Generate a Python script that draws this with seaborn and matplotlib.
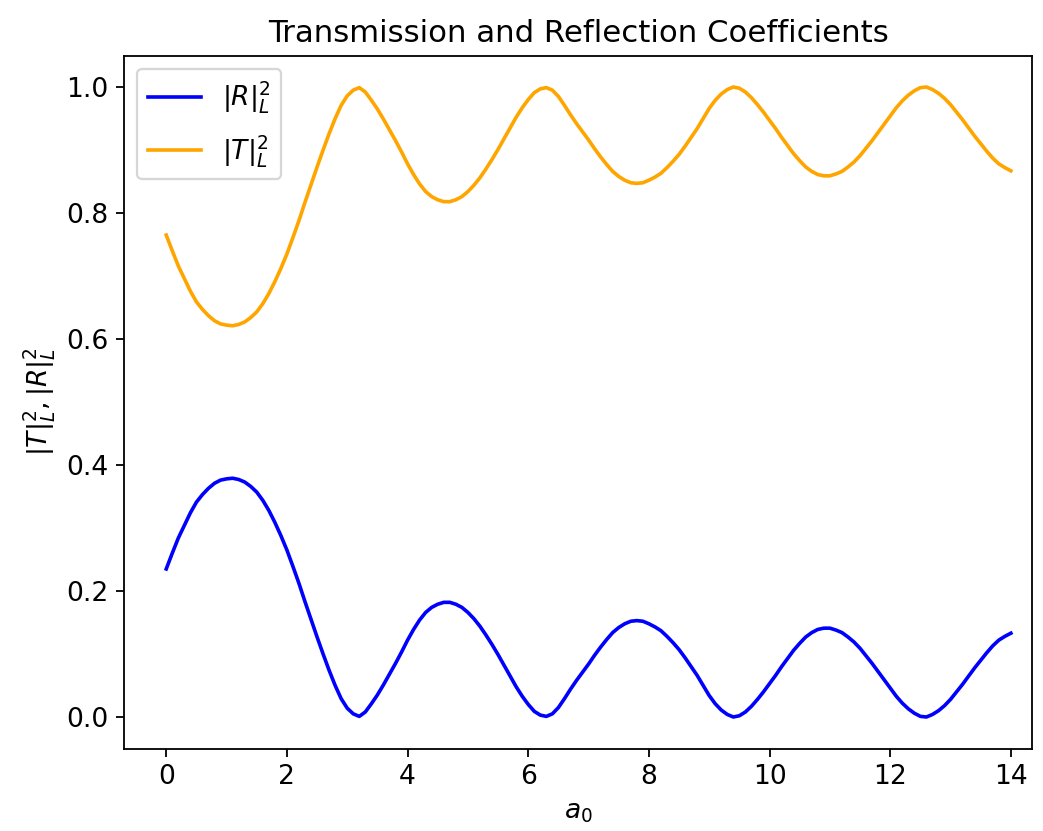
import matplotlib
matplotlib.use("Agg")
import matplotlib.pyplot as plt
import seaborn as sns
import pandas as pd

a0 = [0.0, 0.1, 0.2, 0.3, 0.4, 0.5, 0.6, 0.7, 0.8, 0.9,
      1.0, 1.1, 1.2, 1.3, 1.4, 1.5, 1.6, 1.7, 1.8, 1.9,
      2.0, 2.1, 2.2, 2.3, 2.4, 2.5, 2.6, 2.7, 2.8, 2.9,
      3.0, 3.1, 3.2, 3.3, 3.4, 3.5, 3.6, 3.7, 3.8, 3.9,
      4.0, 4.1, 4.2, 4.3, 4.4, 4.5, 4.6, 4.7, 4.8, 4.9,
      5.0, 5.1, 5.2, 5.3, 5.4, 5.5, 5.6, 5.7, 5.8, 5.9,
      6.0, 6.1, 6.2, 6.3, 6.4, 6.5, 6.6, 6.7, 6.8, 6.9,
      7.0, 7.1, 7.2, 7.3, 7.4, 7.5, 7.6, 7.7, 7.8, 7.9,
      8.0, 8.1, 8.2, 8.3, 8.4, 8.5, 8.6, 8.7, 8.8, 8.9,
      9.0, 9.1, 9.2, 9.3, 9.4, 9.5, 9.6, 9.7, 9.8, 9.9,
      10.0, 10.1, 10.2, 10.3, 10.4, 10.5, 10.6, 10.7, 10.8, 10.9,
      11.0, 11.1, 11.2, 11.3, 11.4, 11.5, 11.6, 11.7, 11.8, 11.9,
      12.0, 12.1, 12.2, 12.3, 12.4, 12.5, 12.6, 12.7, 12.8, 12.9,
      13.0, 13.1, 13.2, 13.3, 13.4, 13.5, 13.6, 13.7, 13.8, 13.9,
      14.0]

R2 = [0.235, 0.260, 0.284, 0.304, 0.324, 0.341, 0.353, 0.363, 0.371, 0.376,
      0.378, 0.379, 0.377, 0.373, 0.366, 0.357, 0.344, 0.328, 0.309, 0.288,
      0.265, 0.239, 0.212, 0.183, 0.155, 0.127, 0.100, 0.074, 0.050, 0.029,
      0.014, 0.005, 0.001, 0.008, 0.021, 0.035, 0.051, 0.068, 0.085, 0.103,
      0.122, 0.139, 0.154, 0.166, 0.174, 0.179, 0.182, 0.182, 0.179, 0.174,
      0.166, 0.156, 0.144, 0.130, 0.115, 0.099, 0.082, 0.065, 0.048, 0.033,
      0.020, 0.009, 0.003, 0.001, 0.005, 0.015, 0.029, 0.044, 0.058, 0.071,
      0.084, 0.098, 0.111, 0.123, 0.134, 0.142, 0.148, 0.152, 0.153, 0.152,
      0.148, 0.143, 0.137, 0.128, 0.118, 0.107, 0.094, 0.080, 0.066, 0.050,
      0.034, 0.021, 0.011, 0.004, 0.000, 0.002, 0.008, 0.017, 0.028, 0.040,
      0.053, 0.066, 0.080, 0.093, 0.106, 0.117, 0.127, 0.134, 0.139, 0.141,
      0.141, 0.138, 0.134, 0.127, 0.119, 0.109, 0.097, 0.085, 0.072, 0.059,
      0.046, 0.033, 0.022, 0.013, 0.006, 0.001, 0.000, 0.004, 0.010, 0.018,
      0.028, 0.040, 0.052, 0.065, 0.078, 0.090, 0.102, 0.113, 0.122, 0.128,
      0.133]

T2 = [0.765, 0.740, 0.716, 0.696, 0.676, 0.659, 0.647, 0.637, 0.629, 0.624,
      0.622, 0.621, 0.623, 0.627, 0.634, 0.643, 0.656, 0.672, 0.691, 0.712,
      0.735, 0.761, 0.788, 0.817, 0.845, 0.873, 0.900, 0.926, 0.950, 0.971,
      0.986, 0.995, 0.999, 0.992, 0.979, 0.965, 0.949, 0.932, 0.915, 0.897,
      0.878, 0.861, 0.846, 0.834, 0.826, 0.821, 0.818, 0.818, 0.821, 0.826,
      0.834, 0.844, 0.856, 0.870, 0.885, 0.901, 0.918, 0.935, 0.952, 0.967,
      0.980, 0.991, 0.997, 0.999, 0.995, 0.985, 0.971, 0.956, 0.942, 0.929,
      0.916, 0.902, 0.889, 0.877, 0.866, 0.858, 0.852, 0.848, 0.847, 0.848,
      0.852, 0.857, 0.863, 0.872, 0.882, 0.893, 0.906, 0.920, 0.934, 0.950,
      0.966, 0.979, 0.989, 0.996, 1.000, 0.998, 0.992, 0.983, 0.972, 0.960,
      0.947, 0.934, 0.920, 0.907, 0.894, 0.883, 0.873, 0.866, 0.861, 0.859,
      0.859, 0.862, 0.866, 0.873, 0.881, 0.891, 0.903, 0.915, 0.928, 0.941,
      0.954, 0.967, 0.978, 0.987, 0.994, 0.999, 1.000, 0.996, 0.990, 0.982,
      0.972, 0.960, 0.948, 0.935, 0.922, 0.910, 0.898, 0.887, 0.878, 0.872,
      0.867]

labels = [r"$|R|_L^2$", r"$|T|_L^2$"]
colors = ["blue", "orange"]
x_ticks = [0, 2, 4, 6, 8, 10, 12, 14]
y_ticks = [0.0, 0.2, 0.4, 0.6, 0.8, 1.0]

df = pd.DataFrame({"a0": a0, "R": R2, "T": T2})

FS = 11.7
plt.rcParams.update({
    "font.size": FS,
    "axes.titlesize": 13.6,
    "axes.labelsize": FS,
    "xtick.labelsize": FS,
    "ytick.labelsize": FS,
    "legend.fontsize": FS,
})

DPI = 163
fig = plt.figure(figsize=(1043 / DPI, 831 / DPI), dpi=DPI)
ax = fig.add_axes([124 / 1043, 1 - 748.5 / 831, (1032 - 124) / 1043, (748.5 - 55.5) / 831])

sns.lineplot(data=df, x="a0", y="R", ax=ax, color=colors[0], label=labels[0], linewidth=1.6)
sns.lineplot(data=df, x="a0", y="T", ax=ax, color=colors[1], label=labels[1], linewidth=1.6)

ax.set_xlim(-0.7, 14.35)
ax.set_ylim(-0.05, 1.05)
ax.set_xticks(x_ticks)
ax.set_yticks(y_ticks)
ax.set_xlabel(r"$a_0$")
ax.set_ylabel(r"$|T|_L^2, |R|_L^2$")
ax.set_title("Transmission and Reflection Coefficients")
ax.legend(loc="upper left", labelspacing=0.65)

fig.savefig("out.png", dpi=DPI)
